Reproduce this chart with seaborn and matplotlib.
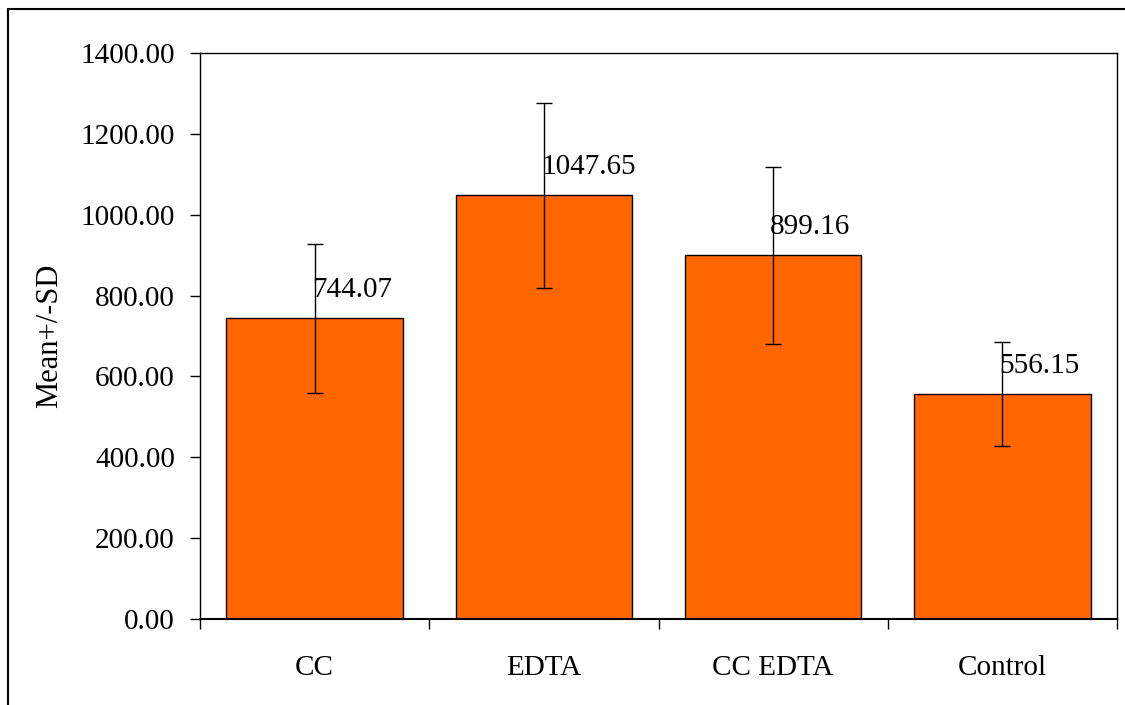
import matplotlib
matplotlib.use("Agg")
from matplotlib import pyplot as plt
from matplotlib.lines import Line2D
import numpy as np
import pandas as pd
import seaborn as sns

# Data
groups = ["CC", "EDTA", "CC EDTA", "Control"]
means = [744.07, 1047.65, 899.16, 556.15]
sds = [184, 228, 218, 129]

df = pd.DataFrame({"group": groups, "mean": means, "sd": sds})

sns.set_style("white")
plt.rcParams["font.family"] = ["Liberation Serif", "DejaVu Serif"]
plt.rcParams["text.color"] = "black"
plt.rcParams["axes.labelcolor"] = "black"
plt.rcParams["xtick.color"] = "black"
plt.rcParams["ytick.color"] = "black"

FS = 21

fig = plt.figure(figsize=(11.25, 7.05), dpi=100)
ax = fig.add_axes([200 / 1125, 1 - 619 / 705, 917 / 1125, 566 / 705])

sns.barplot(data=df, x="group", y="mean", color="#FF6600", saturation=1,
            width=0.77, edgecolor="black", linewidth=1, ax=ax, zorder=2)

# Error bars (+/- SD)
ax.errorbar(np.arange(len(groups)), df["mean"], yerr=df["sd"], fmt="none",
            ecolor="black", elinewidth=1, capsize=6, capthick=1, zorder=3)

# Value labels
for i, m in enumerate(df["mean"]):
    ax.annotate(f"{m:.2f}", (i, m), xytext=(-2, 11), textcoords="offset points",
                ha="left", va="bottom", fontsize=FS, zorder=4)

ax.set_ylim(0, 1400)
ax.set_xlim(-0.5, len(groups) - 0.5)
ax.set_yticks(np.arange(0, 1401, 200))
ax.set_yticklabels([f"{v:.2f}" for v in np.arange(0, 1401, 200)])
ax.set_xlabel("")
ax.set_ylabel("Mean+/-SD", fontsize=22, labelpad=12)

# Category tick marks sit at the boundaries between bars
ax.set_xticks(np.arange(-0.5, len(groups)), minor=True)
ax.tick_params(axis="x", which="major", length=0, pad=26, labelsize=FS)
ax.tick_params(axis="x", which="minor", length=7, width=1, direction="out",
               bottom=True)
ax.tick_params(axis="y", length=7, width=1, direction="out", left=True,
               pad=11, labelsize=FS)

for s in ax.spines.values():
    s.set_visible(True)
    s.set_color("black")
    s.set_linewidth(1)
ax.spines["bottom"].set_linewidth(1.5)

# Outer chart frame (left and top edges visible)
fig.add_artist(Line2D([8 / 1125, 8 / 1125], [0, 1 - 9 / 705], color="black", lw=1.5))
fig.add_artist(Line2D([8 / 1125, 1], [1 - 9 / 705, 1 - 9 / 705], color="black", lw=1.5))

fig.savefig("out.png", dpi=100)
